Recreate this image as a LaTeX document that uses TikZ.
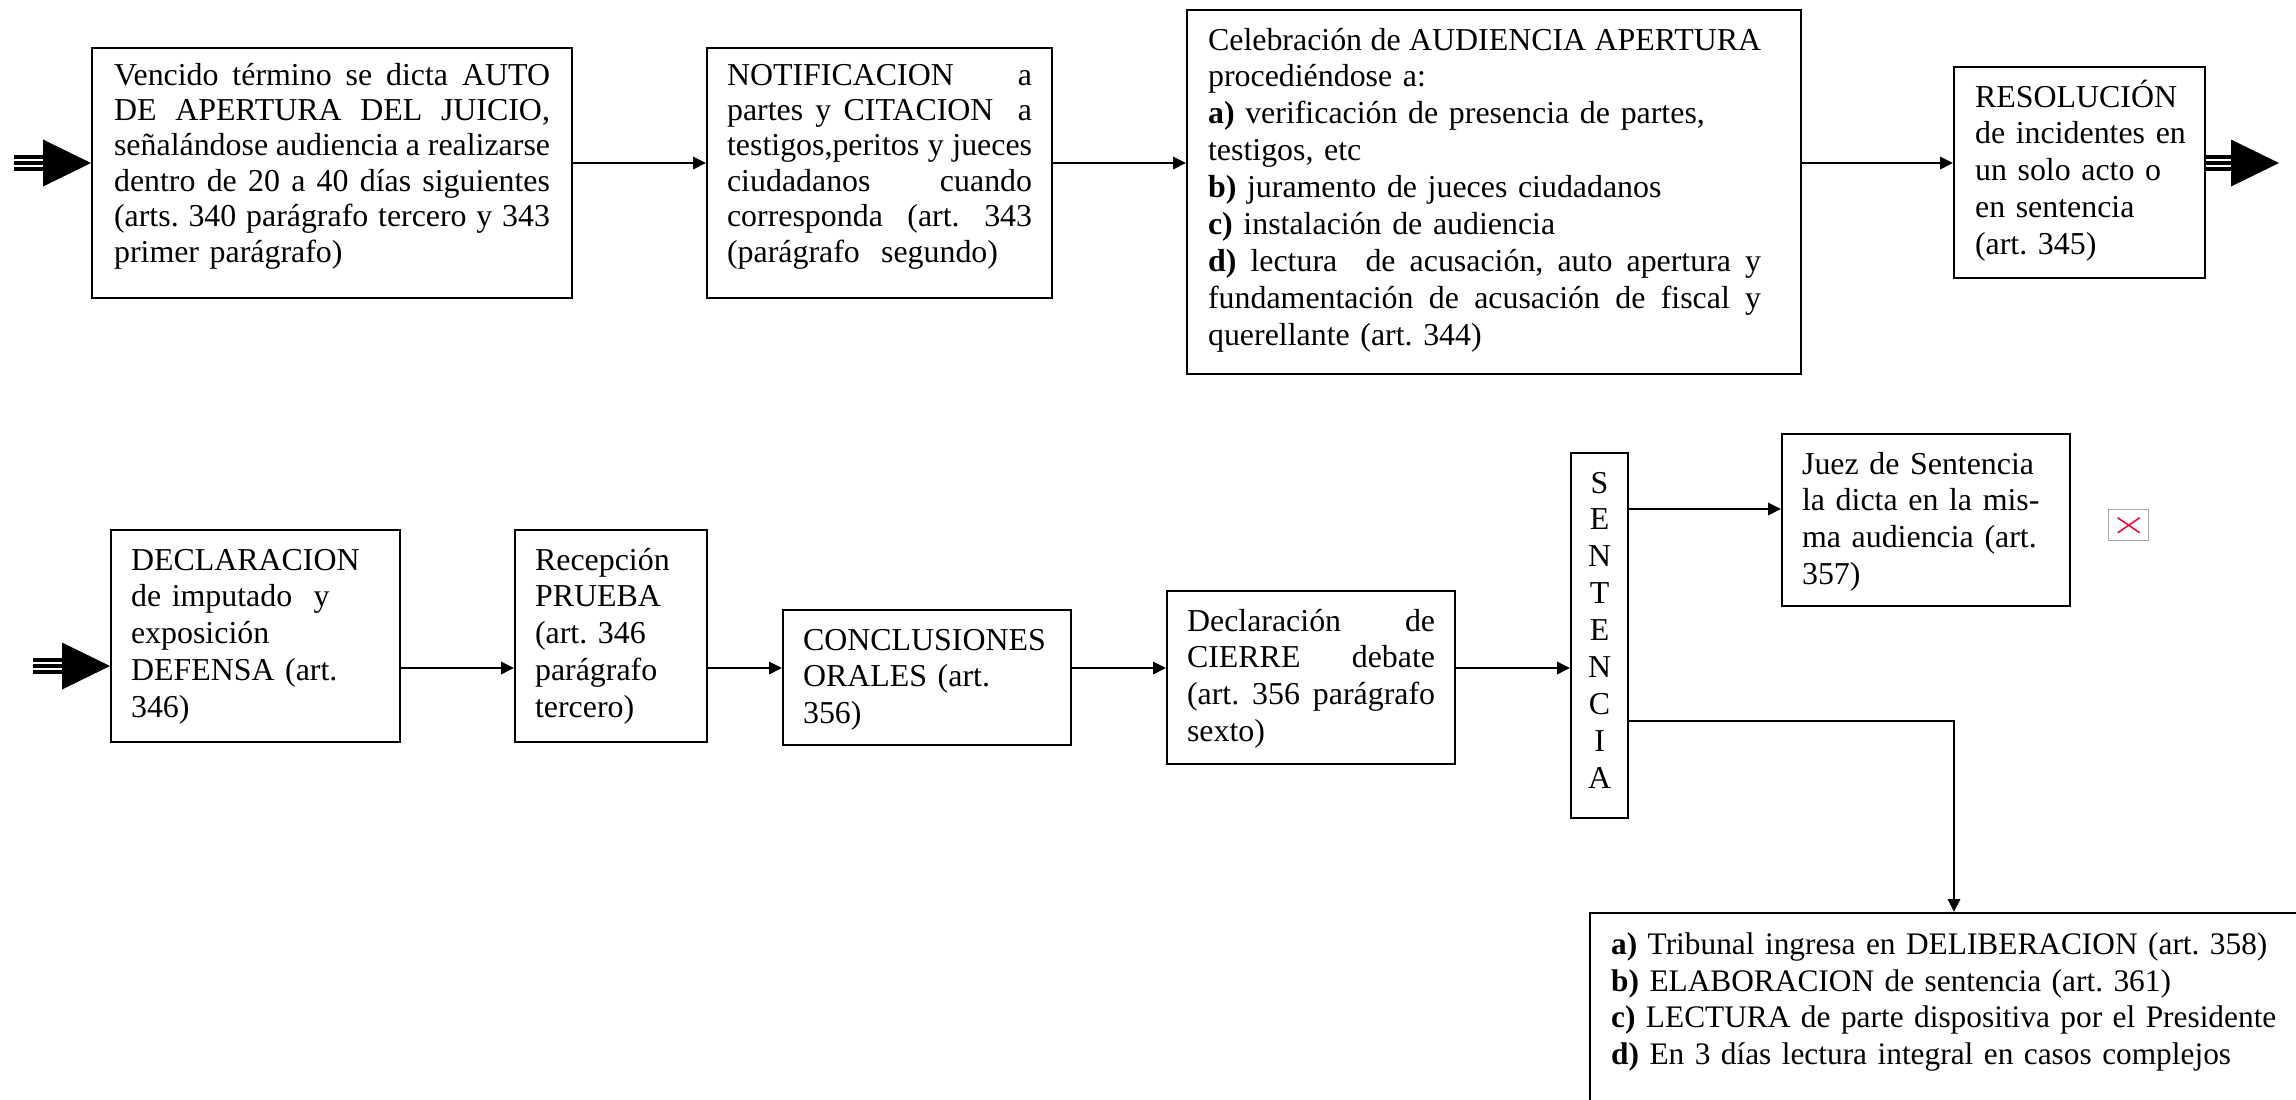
\documentclass[tikz,border=0pt]{standalone}
\usepackage{fontspec}
\setmainfont{Liberation Serif}
\usetikzlibrary{arrows.meta,calc}
\definecolor{xred}{RGB}{232,16,60}
\newcommand\jl[2][\linewidth]{\leavevmode{\spaceskip=2.9pt plus 30pt minus 1.2pt\relax\hbox to #1{#2}}}
\newcommand\rl[1]{\mbox{#1}}
\newcommand\bigarrow[2]{%
  \foreach \o in {-6,0,6} \draw[line width=1.25pt] ($(#1)+(0,\o)$) -- ($(#2)+(-48,\o)$);
  \fill ($(#2)+(-48,-23.5)$) -- (#2) -- ($(#2)+(-48,23.5)$) -- cycle;}
\begin{document}
\begin{tikzpicture}[x=0.37pt, y=-0.37pt,
  bx/.style={draw, line width=0.8pt, anchor=north west, inner ysep=0pt,
    font=\fontsize{11.8pt}{13.65pt}\selectfont\frenchspacing},
  tight/.style={font=\fontsize{11.8pt}{13.1pt}\selectfont\frenchspacing},
  conn/.style={line width=0.7pt, -{Triangle[length=4.8pt,width=4.6pt]}}]
\useasboundingbox (0,0) rectangle (2296,1099);
\fill[white] (0,0) rectangle (2296,1099);
\clip (0,0) rectangle (2296,1099);

% ---- top row ----
\node[bx, tight, inner xsep=8.14pt, text width=161.3pt, text height=13.7pt, text depth=78.8pt] (b1) at (91,47)
 {\jl{Vencido término se dicta AUTO}\\
  \jl{DE APERTURA DEL JUICIO,}\\
  \jl{señalándose audiencia a realizarse}\\
  \jl{dentro de 20 a 40 días siguientes}\\
  \jl{(arts. 340 parágrafo tercero y 343}\\
  \rl{primer parágrafo)}};

\node[bx, tight, inner xsep=7.4pt, text width=112.85pt, text height=13.7pt, text depth=78.8pt] (b2) at (706,47)
 {\jl{NOTIFICACION a}\\
  \jl{partes y CITACION\ \ a}\\
  \jl{testigos,peritos y jueces}\\
  \jl{ciudadanos cuando}\\
  \jl{corresponda (art. 343}\\
  \rl{(parágrafo\ \ segundo)}};

\node[bx, inner xsep=7.77pt, text width=211.64pt, text height=14.8pt, text depth=119.88pt] (b3) at (1186,9)
 {\jl[204.6pt]{Celebración de AUDIENCIA APERTURA}\\
  \rl{procediéndose a:}\\
  \rl{\textbf{a)} verificación de presencia de partes,}\\
  \rl{testigos, etc}\\
  \rl{\textbf{b)} juramento de jueces ciudadanos}\\
  \rl{\textbf{c)} instalación de audiencia}\\
  \jl[204.6pt]{\textbf{d)} lectura\ \ de acusación, auto apertura y}\\
  \jl[204.6pt]{fundamentación de acusación de fiscal y}\\
  \rl{querellante (art. 344)}};

\node[bx, inner xsep=7.77pt, text width=77.33pt, text height=14.8pt, text depth=63.27pt] (b4) at (1953,66)
 {\rl{RESOLUCIÓN}\\
  \rl{de incidentes en}\\
  \rl{un solo acto o}\\
  \rl{en sentencia}\\
  \rl{(art. 345)}};

% ---- bottom row ----
\node[bx, inner xsep=7.4pt, text width=92.13pt, text height=14.8pt, text depth=63.64pt] (decl) at (110,529)
 {\rl{DECLARACION}\\
  \rl{de imputado\ \ y}\\
  \rl{exposición}\\
  \rl{DEFENSA (art.}\\
  \rl{346)}};

\node[bx, inner xsep=7.4pt, text width=56.24pt, text height=14.8pt, text depth=63.64pt] (rec) at (514,529)
 {\rl{Recepción}\\
  \rl{PRUEBA}\\
  \rl{(art. 346}\\
  \rl{parágrafo}\\
  \rl{tercero)}};

\node[bx, inner xsep=7.4pt, text width=91.76pt, text height=14.8pt, text depth=35.15pt] (concl) at (782,609)
 {\rl{CONCLUSIONES}\\
  \rl{ORALES (art.}\\
  \rl{356)}};

\node[bx, inner xsep=7.4pt, text width=91.76pt, text height=14.8pt, text depth=49.21pt] (cierre) at (1166,590)
 {\jl{Declaración de}\\
  \jl{CIERRE debate}\\
  \jl{(art. 356 parágrafo}\\
  \rl{sexto)}};

\node[bx, align=center, inner xsep=4.545pt, text width=12pt, text height=14.8pt, text depth=120.25pt] (sent) at (1570,452)
 {S\\E\\N\\T\\E\\N\\C\\I\\A};

\node[bx, inner xsep=7.4pt, text width=91.76pt, text height=14.8pt, text depth=48.84pt] (juez) at (1781,433)
 {\rl{Juez de Sentencia}\\
  \rl{la dicta en la mis-}\\
  \rl{ma audiencia (art.}\\
  \rl{357)}};

\node[bx, font=\fontsize{11.6pt}{13.65pt}\selectfont\frenchspacing, inner xsep=7.8pt, text width=265.6pt, text height=15.2pt, text depth=69.9pt] (bb) at (1589,912)
 {\rl{\textbf{a)} Tribunal ingresa en DELIBERACION (art. 358)}\\
  \rl{\textbf{b)} ELABORACION de sentencia (art. 361)}\\
  \rl{\textbf{c)} LECTURA de parte dispositiva por el Presidente}\\
  \rl{\textbf{d)} En 3 días lectura integral en casos complejos}};

% broken image placeholder
\node[draw=gray!70, line width=0.5pt, anchor=north west, minimum width=14.8pt, minimum height=11.5pt, inner sep=0pt] (xic) at (2108,509) {};
\draw[xred, line width=0.6pt] ($(xic.center)+(-11,-7.5)$) -- ($(xic.center)+(11,7.5)$);
\draw[xred, line width=0.6pt] ($(xic.center)+(-11,7.5)$) -- ($(xic.center)+(11,-7.5)$);

% ---- connectors ----
\coordinate (r1) at (0,163);
\coordinate (r2) at (0,668);
\coordinate (r3) at (0,509);
\coordinate (r4) at (0,721);
\coordinate (c5) at (1954,0);

\draw[conn] (b1.east |- r1) -- (b2.west |- r1);
\draw[conn] (b2.east |- r1) -- (b3.west |- r1);
\draw[conn] (b3.east |- r1) -- (b4.west |- r1);

\draw[conn] (decl.east |- r2) -- (rec.west |- r2);
\draw[conn] (rec.east |- r2) -- (concl.west |- r2);
\draw[conn] (concl.east |- r2) -- (cierre.west |- r2);
\draw[conn] (cierre.east |- r2) -- (sent.west |- r2);

\draw[conn] (sent.east |- r3) -- (juez.west |- r3);
\draw[conn] (sent.east |- r4) -| (c5 |- bb.north);

% ---- big triple arrows ----
\coordinate (in1) at (14,163);
\coordinate (t1) at (b1.west |- in1);
\bigarrow{in1}{t1}
\coordinate (in2) at (33,666);
\coordinate (t2) at (decl.west |- in2);
\bigarrow{in2}{t2}
\coordinate (s3) at (b4.east |- r1);
\coordinate (t3) at (2279,163);
\bigarrow{s3}{t3}
\end{tikzpicture}
\end{document}
